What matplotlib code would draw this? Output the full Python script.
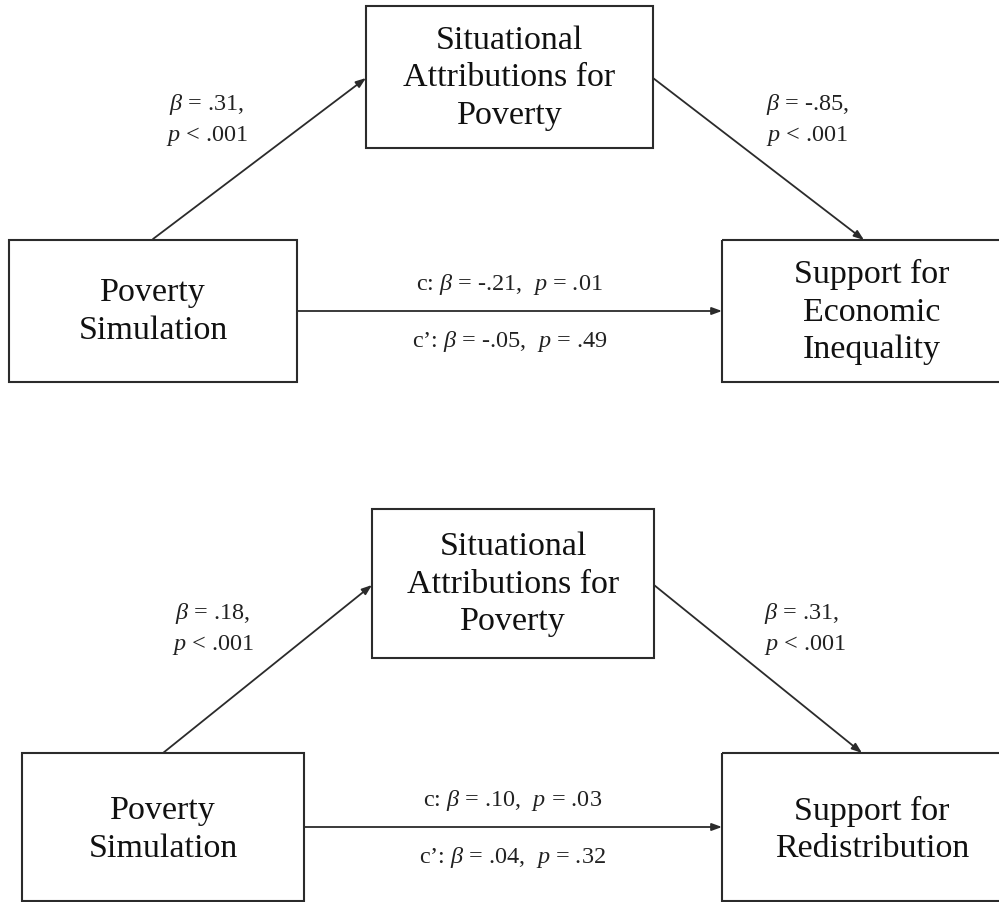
import matplotlib.pyplot as plt
from matplotlib.patches import Rectangle

plt.rcParams['font.family'] = 'Liberation Serif'
plt.rcParams['mathtext.fontset'] = 'custom'
plt.rcParams['mathtext.rm'] = 'Liberation Serif'
plt.rcParams['mathtext.it'] = 'Liberation Serif:italic'

# model contents
predictor = 'Poverty\nSimulation'
mediator = 'Situational\nAttributions for\nPoverty'
outcomes = ['Support for\nEconomic\nInequality', 'Support for\nRedistribution']
a_paths = [('.31', '< .001'), ('.18', '< .001')]
b_paths = [('-.85', '< .001'), ('.31', '< .001')]
c_paths = [('-.21', '= .01'), ('.10', '= .03')]
cprime_paths = [('-.05', '= .49'), ('.04', '= .32')]

# layout (pixel coords) for the two panels
panels = [
    dict(left=(9, 241, 288, 142), med=(366, 7, 287, 142), right=(722, 241, 300, 142),
         a=((153, 240), (366, 79)), b=((653, 79), (864, 241)), cy=312,
         alab=(207, 120), blab=(766, 120)),
    dict(left=(22, 754, 282, 148), med=(372, 510, 282, 149), right=(722, 754, 300, 148),
         a=((163, 754), (372, 586)), b=((654, 586), (862, 754)), cy=828,
         alab=(213, 629), blab=(764, 629)),
]

line_col = '#2b2b2b'

fig = plt.figure(figsize=(9.99, 9.03), dpi=100)
ax = fig.add_axes([0, 0, 1, 1])
ax.set_xlim(0, 999)
ax.set_ylim(903, 0)
ax.axis('off')

def box(rect, text, fs=24.5, dy=0):
    x, y, w, h = rect
    ax.add_patch(Rectangle((x, y), w, h, fill=False, ec=line_col, lw=1.5))
    ax.text(x + w / 2, y + h / 2 + dy, text, ha='center', va='center', fontsize=fs,
            linespacing=1.3, color='#111111')

def arrow(p0, p1):
    ax.annotate('', xy=p1, xytext=p0,
                arrowprops=dict(arrowstyle='-|>,head_length=0.6,head_width=0.22',
                                color=line_col, lw=1.3, shrinkA=0, shrinkB=0))

fs_lab = 17.5
for i, pn in enumerate(panels):
    box(pn['left'], predictor, dy=2 * i)
    box(pn['med'], mediator)
    box(pn['right'], outcomes[i], dy=2 * i)

    arrow(*pn['a'])
    arrow(*pn['b'])
    lx, ly, lw_, lh = pn['left']
    rx = pn['right'][0]
    arrow((lx + lw_, pn['cy']), (rx, pn['cy']))

    ax.text(pn['alab'][0], pn['alab'][1], '$β$ = ' + a_paths[i][0] + ',\n$p$ ' + a_paths[i][1],
            ha='center', va='center', fontsize=fs_lab, linespacing=1.45, color='#222222')
    ax.text(pn['blab'][0], pn['blab'][1], '$β$ = ' + b_paths[i][0] + ',\n$p$ ' + b_paths[i][1],
            ha='left', va='center', fontsize=fs_lab, linespacing=1.45, color='#222222')

    cx = (lx + lw_ + rx) / 2
    ax.text(cx, pn['cy'] - 27, 'c: $β$ = ' + c_paths[i][0] + ',  $p$ ' + c_paths[i][1],
            ha='center', va='center', fontsize=fs_lab, color='#222222')
    ax.text(cx, pn['cy'] + 30, 'c’: $β$ = ' + cprime_paths[i][0] + ',  $p$ ' + cprime_paths[i][1],
            ha='center', va='center', fontsize=fs_lab, color='#222222')

fig.savefig('out.png', dpi=100)
